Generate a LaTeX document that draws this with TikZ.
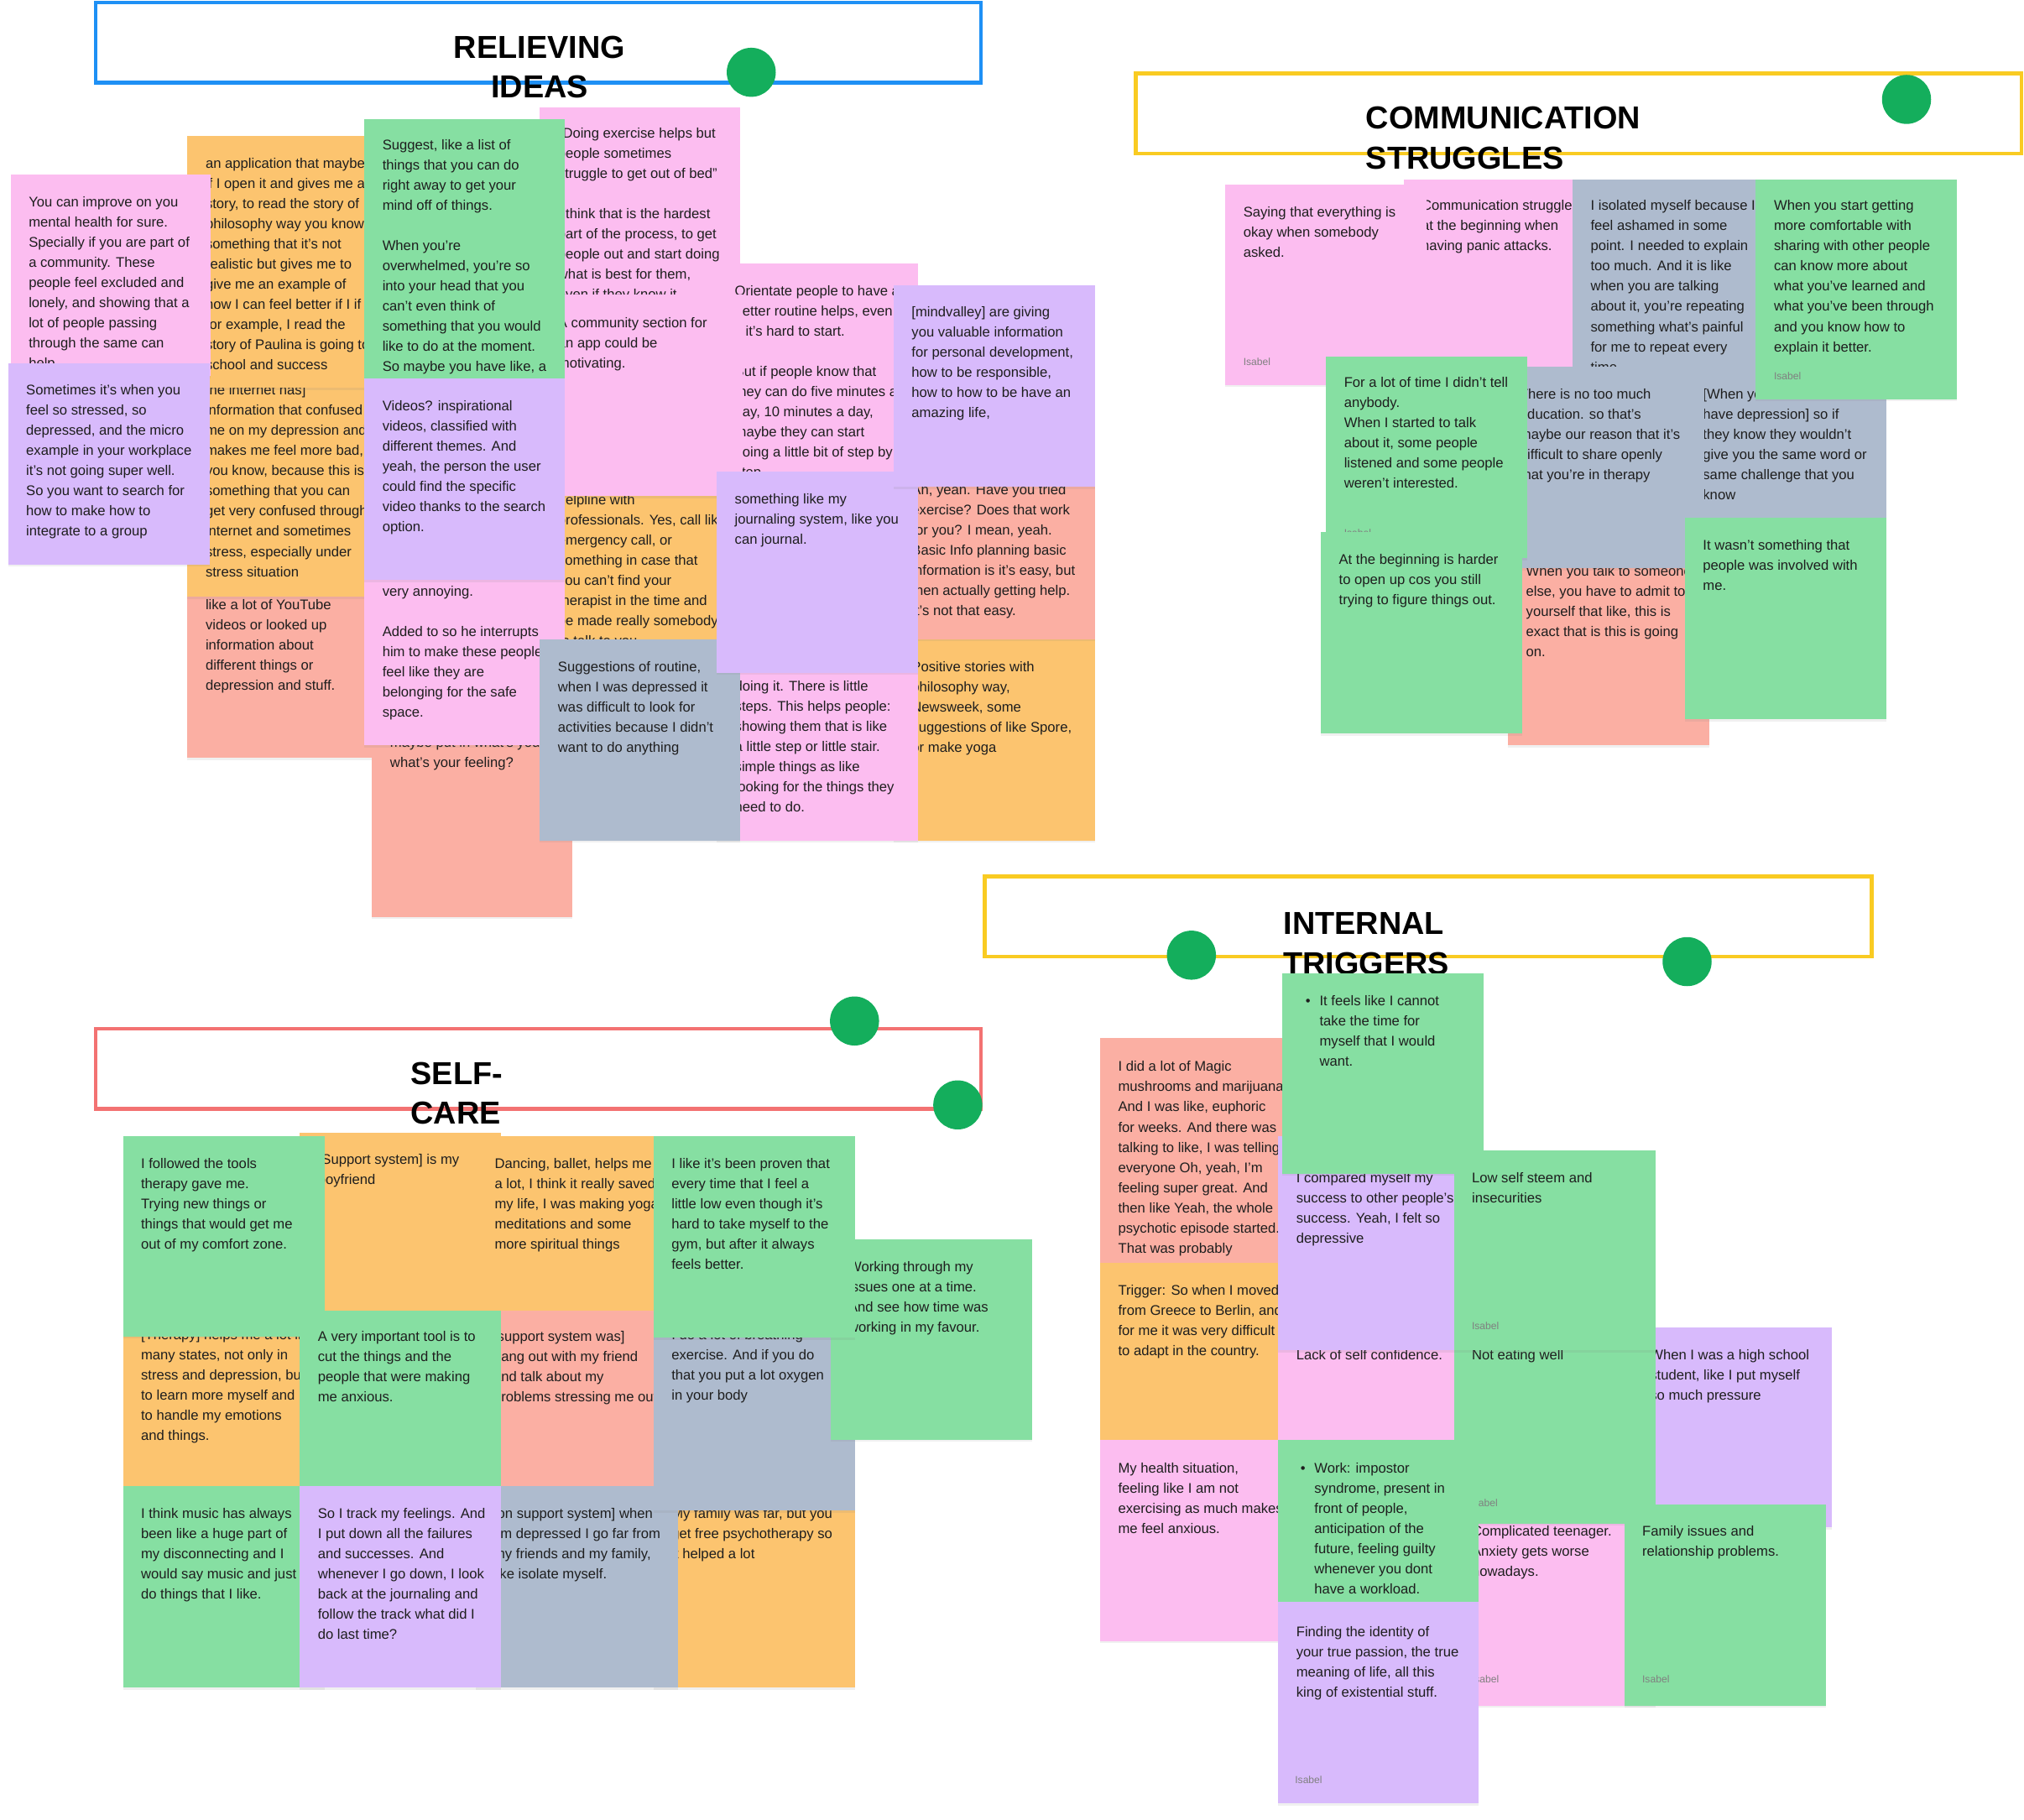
\documentclass[tikz,border=0pt]{standalone}
\usepackage{fontspec}
\setmainfont{Liberation Sans}
\usepackage{xcolor}
\usepackage{tikz}
\usetikzlibrary{shadows}

\definecolor{stickygreen}{HTML}{86DFA2}
\definecolor{stickypink}{HTML}{FCBDF0}
\definecolor{stickyviolet}{HTML}{D8BAFC}
\definecolor{stickyorange}{HTML}{FCC46F}
\definecolor{stickyred}{HTML}{FBAFA3}
\definecolor{stickygray}{HTML}{AEBBCE}
\definecolor{dotgreen}{HTML}{14AE5C}
\definecolor{frameblue}{HTML}{1E90F5}
\definecolor{frameyellow}{HTML}{F9CB22}
\definecolor{framered}{HTML}{F37272}
\definecolor{ink}{HTML}{1E1E1E}

\newlength{\unitlen}
\setlength{\unitlen}{0.025cm}

\tikzset{
  stickybox/.style={anchor=north west, inner sep=0pt, draw=none,
    drop shadow={shadow xshift=0pt, shadow yshift=-1.2pt, opacity=0.12}},
  stickytext/.style={anchor=north west, inner sep=0pt, align=left, text=ink,
    font=\fontsize{7.7}{11.1}\selectfont},
  signature/.style={anchor=base west, inner sep=0pt, text=black!50,
    font=\fontsize{5.6}{6}\selectfont},
  headframe/.style={draw, line width=2.1pt},
  headtitle/.style={inner sep=0pt, text=black, font=\fontsize{17.5}{22}\selectfont\bfseries},
  marker/.style={circle, fill=dotgreen, inner sep=0pt, minimum size=38*\unitlen}
}

% name, x, y, width, height, colour, first line, text
\newcommand{\sticky}[8]{%
  \node[stickybox, fill=#6, minimum width=#4\unitlen, minimum height=#5\unitlen] (#1) at (#2,#3) {};
  \node[stickytext] (#1-text) at (#2+14,#7-4) {#8};}

\begin{document}
\begin{tikzpicture}[x=0.025cm, y=-0.025cm]
\useasboundingbox (0,0) rectangle (1568,1410);

% headers
\draw[headframe, frameblue] (74,2) rectangle (760,64);
\node[headtitle, align=center] (relieving) at (418,52) {RELIEVING\\IDEAS};
\node[marker] (relieving-dot) at (582,56) {};

\draw[headframe, frameyellow] (880,57) rectangle (1566,119);
\node[headtitle, align=left, anchor=west] (communication) at (1058,107) {COMMUNICATION\\STRUGGLES};
\node[marker] (communication-dot) at (1477,77) {};

\draw[headframe, frameyellow] (763,679) rectangle (1450,741);
\node[headtitle, align=left, anchor=west] (internal) at (994,731) {INTERNAL\\TRIGGERS};
\node[marker] (internal-dot1) at (923,740) {};
\node[marker] (internal-dot2) at (1307,745) {};

\draw[headframe, framered] (74,797) rectangle (760,859);
\node[headtitle, align=left, anchor=west] (selfcare) at (318,847) {SELF-\\CARE};
\node[marker] (selfcare-dot1) at (662,791) {};
\node[marker] (selfcare-dot2) at (742,856) {};

% relieving ideas
\sticky{b3}{145}{430}{155}{157}{stickyred}{468}{like a lot of YouTube\\videos or looked up\\information about\\different things or\\depression and stuff.}
\sticky{b2}{145}{250}{155}{212}{stickyorange}{302}{the internet has]\\information that confused\\me on my depression and\\makes me feel more bad,\\you know, because this is\\something that you can\\get very confused through\\internet and sometimes\\stress, especially under\\stress situation}
\sticky{b1}{145}{105}{155}{195}{stickyorange}{126}{an application that maybe\\if I open it and gives me a\\story, to read the story of\\philosophy way you know\\something that it's not\\realistic but gives me to\\give me an example of\\how I can feel better if I if\\for example, I read the\\story of Paulina is going to\\school and success}
\sticky{a1}{8}{135}{155}{156}{stickypink}{156}{You can improve on you\\mental health for sure.\\Specially if you are part of\\a community. These\\people feel excluded and\\lonely, and showing that a\\lot of people passing\\through the same can\\help.}
\sticky{a2}{6}{281}{156}{156}{stickyviolet}{302}{Sometimes it's when you\\feel so stressed, so\\depressed, and the micro\\example in your workplace\\it's not going super well.\\So you want to search for\\how to make how to\\integrate to a group}
\sticky{d3}{418}{360}{155}{140}{stickyorange}{387}{helpline with\\professionals. Yes, call like\\emergency call, or\\something in case that\\you can't find your\\therapist in the time and\\be made really somebody\\to talk to you}
\sticky{d1}{418}{83}{155}{150}{stickypink}{103}{``Doing exercise helps but\\people sometimes\\struggle to get out of bed''\\[11.1pt]I think that is the hardest\\part of the process, to get\\people out and start doing\\what is best for them,\\even if they know it}
\sticky{e1}{555}{204}{156}{165}{stickypink}{225}{Orientate people to have a\\better routine helps, even\\if it's hard to start.\\[11.1pt]But if people know that\\they can do five minutes a\\day, 10 minutes a day,\\maybe they can start\\doing a little bit of step by\\step}
\sticky{d2}{418}{228}{157}{156}{stickypink}{250}{A community section for\\an app could be\\motivating.}
\sticky{c4}{288}{560}{155}{150}{stickyred}{575}{maybe put in what's your\\what's your feeling?}
\sticky{c3}{282}{420}{155}{157}{stickypink}{458}{very annoying.\\[11.1pt]Added to so he interrupts\\him to make these people\\feel like they are\\belonging for the safe\\space.}
\sticky{c1}{282}{92}{155}{201}{stickygreen}{112}{Suggest, like a list of\\things that you can do\\right away to get your\\mind off of things.\\[11.1pt]When you're\\overwhelmed, you're so\\into your head that you\\can't even think of\\something that you would\\like to do at the moment.\\So maybe you have like, a}
\sticky{c2}{282}{293}{155}{156}{stickyviolet}{314}{Videos? inspirational\\videos, classified with\\different themes. And\\yeah, the person the user\\could find the specific\\video thanks to the search\\option.}
\sticky{f3}{692}{495}{156}{156}{stickyorange}{516}{Positive stories with\\philosophy way,\\Newsweek, some\\suggestions of like Spore,\\or make yoga}
\sticky{f2}{692}{350}{156}{145}{stickyred}{379}{Ah, yeah. Have you tried\\exercise? Does that work\\for you? I mean, yeah.\\Basic Info planning basic\\information is it's easy, but\\then actually getting help.\\It's not that easy.}
\sticky{e3}{555}{500}{156}{151}{stickypink}{531}{doing it. There is little\\steps. This helps people:\\showing them that is like\\a little step or little stair.\\simple things as like\\looking for the things they\\need to do.}
\sticky{d4}{418}{495}{155}{156}{stickygray}{516}{Suggestions of routine,\\when I was depressed it\\was difficult to look for\\activities because I didn't\\want to do anything}
\sticky{e2}{555}{365}{156}{156}{stickyviolet}{386}{something like my\\journaling system, like you\\can journal.}
\sticky{f1}{692}{221}{156}{156}{stickyviolet}{241}{[mindvalley] are giving\\you valuable information\\for personal development,\\how to be responsible,\\how to how to be have an\\amazing life,}

% communication struggles
\sticky{g2}{1087}{139}{156}{151}{stickypink}{159}{Communication struggle\\at the beginning when\\having panic attacks.}
\sticky{g1}{949}{143}{156}{155}{stickypink}{164}{Saying that everything is\\okay when somebody\\asked.}
\node[signature] (g1-sig) at (963,283) {Isabel};
\sticky{g3}{1218}{139}{156}{160}{stickygray}{159}{I isolated myself because I\\feel ashamed in some\\point. I needed to explain\\too much. And it is like\\when you are talking\\about it, you're repeating\\something what's painful\\for me to repeat every\\time}
\sticky{g9}{1168}{420}{156}{157}{stickyred}{442}{When you talk to someone\\else, you have to admit to\\yourself that like, this is\\exact that is this is going\\on.}
\sticky{g6}{1305}{286}{156}{154}{stickygray}{305}{[When you\\have depression] so if\\they know they wouldn't\\give you the same word or\\same challenge that you\\know}
\sticky{g5}{1163}{284}{157}{156}{stickygray}{305}{There is no too much\\education. so that's\\maybe our reason that it's\\difficult to share openly\\that you're in therapy}
\sticky{g4}{1360}{139}{156}{170}{stickygreen}{159}{When you start getting\\more comfortable with\\sharing with other people\\can know more about\\what you've learned and\\what you've been through\\and you know how to\\explain it better.}
\node[signature] (g4-sig) at (1374,294) {Isabel};
\sticky{g7}{1027}{276}{156}{156}{stickygreen}{296}{For a lot of time I didn't tell\\anybody.\\When I started to talk\\about it, some people\\listened and some people\\weren't interested.}
\node[signature] (g7-sig) at (1041,416) {Isabel};
\sticky{g8}{1023}{412}{156}{156}{stickygreen}{433}{At the beginning is harder\\to open up cos you still\\trying to figure things out.}
\sticky{g10}{1305}{401}{156}{156}{stickygreen}{422}{It wasn't something that\\people was involved with\\me.}

% internal triggers
\sticky{h1}{852}{804}{156}{190}{stickyred}{826}{I did a lot of Magic\\mushrooms and marijuana.\\And I was like, euphoric\\for weeks. And there was\\talking to like, I was telling\\everyone Oh, yeah, I'm\\feeling super great. And\\then like Yeah, the whole\\psychotic episode started.\\That was probably}
\sticky{h2}{852}{978}{156}{137}{stickyorange}{999}{Trigger: So when I moved\\from Greece to Berlin, and\\for me it was very difficult\\to adapt in the country.}
\sticky{h3}{852}{1115}{156}{156}{stickypink}{1137}{My health situation,\\feeling like I am not\\exercising as much makes\\me feel anxious.}
\sticky{i3}{990}{960}{155}{155}{stickypink}{1049}{Lack of self confidence.}
\sticky{i1}{990}{880}{155}{166}{stickyviolet}{912}{I compared myself my\\success to other people's\\success. Yeah, I felt so\\depressive}
\node[stickybox, fill=stickygreen, minimum width=156\unitlen, minimum height=155\unitlen] (i0) at (993,754) {};
\node[stickytext] (i0-text) at (1022,771) {\llap{\textbullet\hspace{5pt}}It feels like I cannot\\take the time for\\myself that I would\\want.};
\sticky{i7}{1264}{1028}{155}{155}{stickyviolet}{1049}{When I was a high school\\student, like I put myself\\so much pressure}
\sticky{i6}{1126}{1150}{156}{171}{stickypink}{1186}{Complicated teenager.\\Anxiety gets worse\\nowadays.}
\node[signature] (i6-sig) at (1140,1304) {Isabel};
\sticky{i5}{1126}{1000}{156}{180}{stickygreen}{1049}{Not eating well}
\node[signature] (i5-sig) at (1139,1167) {Isabel};
\sticky{i2}{1126}{891}{156}{155}{stickygreen}{912}{Low self steem and\\insecurities}
\node[signature] (i2-sig) at (1140,1030) {Isabel};
\sticky{i9}{1258}{1165}{156}{156}{stickygreen}{1186}{Family issues and\\relationship problems.}
\node[signature] (i9-sig) at (1272,1304) {Isabel};
\node[stickybox, fill=stickygreen, minimum width=155\unitlen, minimum height=126\unitlen] (i4) at (990,1115) {};
\node[stickytext] (i4-text) at (1018,1133) {\llap{\textbullet\hspace{5pt}}Work: impostor\\syndrome, present in\\front of people,\\anticipation of the\\future, feeling guilty\\whenever you dont\\have a workload.};
\sticky{i8}{990}{1241}{155}{156}{stickyviolet}{1264}{Finding the identity of\\your true passion, the true\\meaning of life, all this\\king of existential stuff.}
\node[signature] (i8-sig) at (1003,1382) {Isabel};

% self-care
\sticky{s2}{232}{877}{156}{138}{stickyorange}{898}{[Support system] is my\\boyfriend}
\sticky{s3}{369}{880}{156}{135}{stickyorange}{901}{Dancing, ballet, helps me\\a lot, I think it really saved\\my life, I was making yoga\\meditations and some\\more spiritual things}
\sticky{s6}{95}{1000}{156}{151}{stickyorange}{1034}{[Therapy] helps me a lot in\\many states, not only in\\stress and depression, but\\to learn more myself and\\to handle my emotions\\and things.}
\sticky{s8}{368}{1015}{157}{136}{stickyred}{1035}{[support system was]\\hang out with my friend\\and talk about my\\problems stressing me out}
\sticky{s13}{506}{1140}{156}{167}{stickyorange}{1172}{My family was far, but you\\get free psychotherapy so\\it helped a lot}
\sticky{s12}{368}{1151}{157}{156}{stickygray}{1172}{[on support system] when\\I'm depressed I go far from\\my friends and my family,\\like isolate myself.}
\sticky{s9}{506}{1015}{156}{155}{stickygray}{1034}{I do a lot of breathing\\exercise. And if you do\\that you put a lot oxygen\\in your body}
\sticky{s1}{95}{880}{156}{155}{stickygreen}{901}{I followed the tools\\therapy gave me.\\Trying new things or\\things that would get me\\out of my comfort zone.}
\sticky{s7}{232}{1015}{156}{136}{stickygreen}{1035}{A very important tool is to\\cut the things and the\\people that were making\\me anxious.}
\sticky{s5}{643}{960}{156}{155}{stickygreen}{981}{Working through my\\issues one at a time.\\And see how time was\\working in my favour.}
\sticky{s4}{506}{880}{156}{156}{stickygreen}{901}{I like it's been proven that\\every time that I feel a\\little low even though it's\\hard to take myself to the\\gym, but after it always\\feels better.}
\sticky{s10}{95}{1151}{156}{156}{stickygreen}{1172}{I think music has always\\been like a huge part of\\my disconnecting and I\\would say music and just\\do things that I like.}
\sticky{s11}{232}{1151}{156}{156}{stickyviolet}{1172}{So I track my feelings. And\\I put down all the failures\\and successes. And\\whenever I go down, I look\\back at the journaling and\\follow the track what did I\\do last time?}
\end{tikzpicture}
\end{document}
